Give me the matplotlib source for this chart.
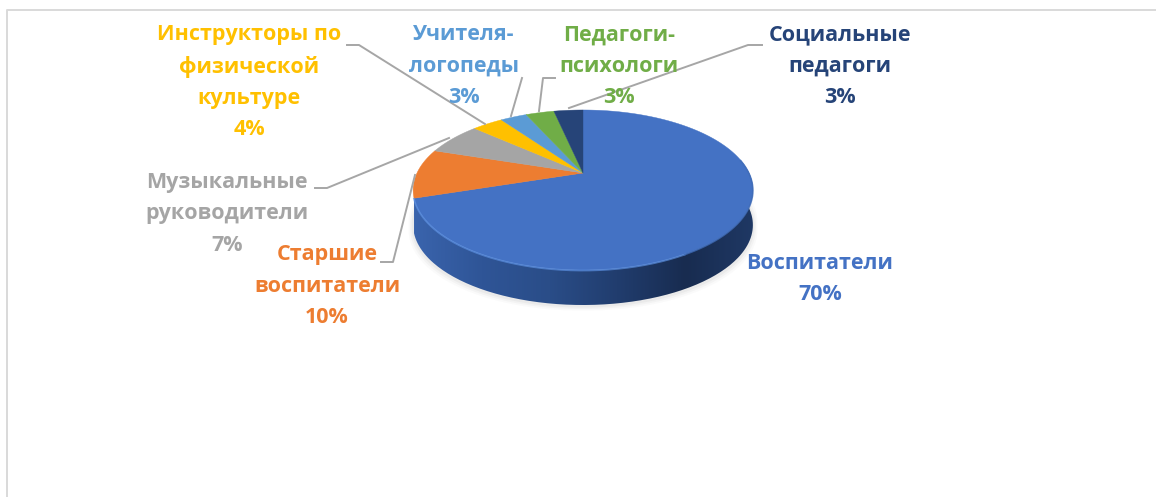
import numpy as np
from matplotlib import pyplot as plt
from matplotlib.patches import Polygon, PathPatch
from matplotlib.path import Path
from matplotlib.colors import LinearSegmentedColormap

categories = ['Воспитатели', 'Старшие\nвоспитатели', 'Музыкальные\nруководители',
              'Инструкторы по\nфизической\nкультуре', 'Учителя-\nлогопеды',
              'Педагоги-\nпсихологи', 'Социальные\nпедагоги']
values = [70, 10, 6.6, 3.6, 3.1, 3.3, 3.4]
colors = ['#4472C4', '#ED7D31', '#A5A5A5', '#FFC000', '#5B9BD5', '#70AD47', '#264478']
label_pos = [(820, 279), (327, 286), (227, 214), (249, 82), (464, 66), (619, 66), (840, 66)]

# pie geometry in pixels
cx, cy = 583, 173
sx, sy = 166, 76.4
k = 0.2125
depth = 35


def project(deg):
    # clockwise from 12 o'clock, tilted circle with a little perspective
    a = np.radians(deg)
    w = 1 + k * np.cos(a)
    return cx + sx * np.sin(a) / w, cy - sy * np.cos(a) / w


def rim(start, stop):
    t = np.linspace(start, stop, 200)
    return np.column_stack(project(t))


plt.rcParams['font.family'] = ['Open Sans', 'Liberation Sans', 'DejaVu Sans']

fig = plt.figure(figsize=(11.56, 4.97), dpi=100)
ax = fig.add_axes([0, 0, 1, 1])
ax.set_xlim(0, 1156)
ax.set_ylim(497, 0)
ax.axis('off')

# chart frame
ax.plot([7, 7, 1156], [497, 10, 10], color='#d9d9d9', lw=1.4)

# soft shadow under the pie
whole = rim(0, 360)
for grow, alpha in [(9, 0.03), (6, 0.05), (3, 0.07)]:
    ax.add_patch(Polygon(whole + [0, depth + 1] + np.sign(whole - [cx, cy + 17]) * grow * 0.5,
                         closed=True, fc='#7f7f7f', ec='none', alpha=alpha, zorder=1))

# side wall with horizontal gradient
front = rim(80, 252)
wall = np.vstack([front, front[::-1] + [0, depth]])
wall_patch = PathPatch(Path(np.vstack([wall, wall[:1]])), fc='none', ec='none', zorder=2)
ax.add_patch(wall_patch)
wall_cmap = LinearSegmentedColormap.from_list('wall', ['#3a64ad', '#2f5597', '#2a4d88', '#213d6e', '#182c50', '#1f3864'])
img = ax.imshow(np.linspace(0, 1, 256)[None, :], cmap=wall_cmap, aspect='auto', zorder=2,
                extent=[413, 754, 310, 170])
img.set_clip_path(wall_patch)
ax.set_xlim(0, 1156)
ax.set_ylim(497, 0)

# top face
bounds = np.cumsum([0] + values) * 3.6
for start, stop, color in zip(bounds[:-1], bounds[1:], colors):
    pts = np.vstack([[cx, cy], rim(start, stop)])
    ax.add_patch(Polygon(pts, closed=True, fc=color, ec=color, lw=0.3, zorder=3))

# lit bevel along the front edge
edge = rim(150, 252)
ax.plot(edge[:, 0], edge[:, 1] + 0.5, color='#5b8fe0', lw=1.3, alpha=0.7, zorder=4)
edge = rim(80, 150)
ax.plot(edge[:, 0], edge[:, 1] + 0.5, color='#3f6cb8', lw=1.2, alpha=0.8, zorder=4)

# leader lines
leaders = [
    ([381, 393, 415], [262, 262, 175]),
    ([315, 327, 449], [188, 188, 138]),
    ([347, 359, 485], [45, 45, 124]),
    ([522, 511], [78, 116]),
    ([555, 543, 539], [78, 78, 111]),
    ([762, 748, 569], [45, 45, 108]),
]
for xs, ys in leaders:
    ax.plot(xs, ys, color='#a6a6a6', lw=1.4, zorder=5)

# labels
for name, value, color, (x, y) in zip(categories, values, colors, label_pos):
    ax.text(x, y, f'{name}\n{value:.0f}%', color=color, fontsize=15.5, fontweight='bold',
            ha='center', va='center', linespacing=1.65, zorder=6)

fig.savefig('out.png', dpi=100)
